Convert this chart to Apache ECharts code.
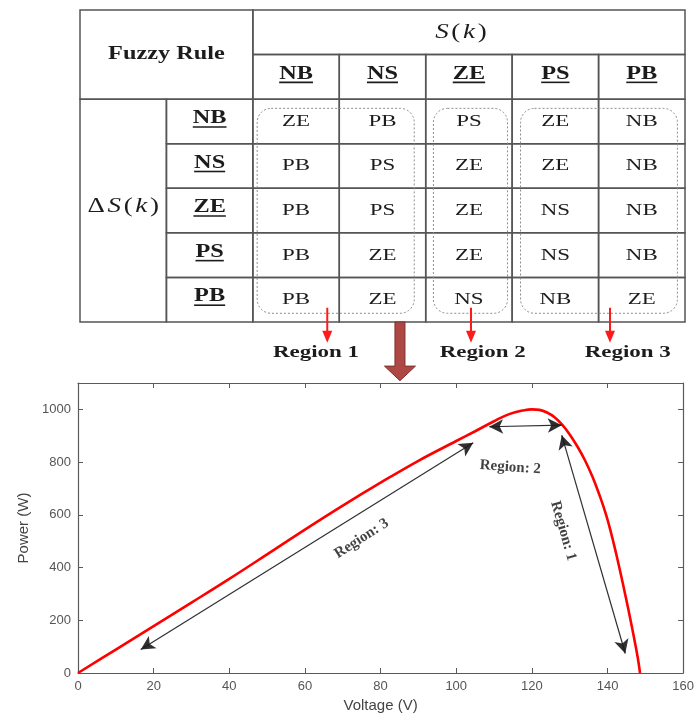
<!DOCTYPE html>
<html>
<head>
<meta charset="utf-8">
<style>
html,body{margin:0;padding:0;background:#ffffff;}
#main{width:697px;height:715px;}
</style>
<script src="https://cdn.jsdelivr.net/npm/echarts@6.0.0/dist/echarts.min.js"></script>
</head>
<body>
<div id="main"></div>
<script>
// ------------------------- DATA -------------------------
const tableTitle = 'Fuzzy Rule';
const colHeaders = ['NB', 'NS', 'ZE', 'PS', 'PB'];      // S(k)
const rowHeaders = ['NB', 'NS', 'ZE', 'PS', 'PB'];      // ΔS(k)
const ruleRows = [
  ['ZE', 'PB', 'PS', 'ZE', 'NB'],
  ['PB', 'PS', 'ZE', 'ZE', 'NB'],
  ['PB', 'PS', 'ZE', 'NS', 'NB'],
  ['PB', 'ZE', 'ZE', 'NS', 'NB'],
  ['PB', 'ZE', 'NS', 'NB', 'ZE']
];
const regionColumns = [[0, 1], [2, 2], [3, 4]];
const regionNames = ['Region 1', 'Region 2', 'Region 3'];

const voltage = [0, 10, 20, 30, 40, 50, 60, 70, 80, 90, 100, 105, 110, 114, 118, 120, 122, 124, 126, 128, 130, 132, 134, 136, 138, 139, 140, 141, 142, 143, 144, 145, 146, 147, 148, 148.6];
const power   = [0, 89, 178, 267, 357, 450, 544, 635, 722, 805, 880, 917, 955, 982, 997, 1000, 998, 988, 970, 942, 905, 860, 808, 745, 670, 628, 582, 528, 470, 408, 343, 276, 207, 135, 58, 0];

const xTickStep = 20;
const yTickStep = 200;

// annotation arrows on the curve (data units: [V, P])
const curveArrowStart = [[16.6, 89], [108.7, 934], [127.9, 902]];
const curveArrowEnd   = [[104.5, 873], [127.9, 940], [144.7, 74]];
const curveLabels = ['Region: 3', 'Region: 2', 'Region: 1'];
const curveLabelAnchor = [[75.0, 510], [114.3, 780], [128.3, 539]];

// ------------------------- LAYOUT / STYLE -------------------------
const SERIF = "'Liberation Serif','DejaVu Serif',serif";
const SANS = "'Liberation Sans',Arial,sans-serif";
const SX = 1.35;                  // horizontal stretch of the figure text
const TEXT = '#1c1c1c';
const BORDER = '#555555';
const ROW_UNITS = 8.5;
const ROW_H = 44.57;
const curveLabelRotate = [33, -4, -74];
const regionInsets = [[4.3, 11.5], [7.7, 4.6], [8.4, 7.6]];
const redArrowX = [2.861, 4.524, 6.132];
const regionLabelX = [2.731, 4.659, 6.337];

const measureCtx = document.createElement('canvas').getContext('2d');
function textWidth(t, font) { measureCtx.font = font; return measureCtx.measureText(t).width; }

// ------------------------- TABLE CELLS -------------------------
const cells = [];
cells.push({c: 0, r: 0, cs: 2, rs: 2, kind: 'title', text: tableTitle});
cells.push({c: 2, r: 0, cs: 5, rs: 1, kind: 'rich', text: '{i|S}{n|(}{i|k}{n|)}', dx: -8});
colHeaders.forEach((h, j) => cells.push({c: 2 + j, r: 1, cs: 1, rs: 1, kind: 'head', text: h}));
cells.push({c: 0, r: 2, cs: 1, rs: 5, kind: 'rich', text: '{n|Δ}{i|S}{n|(}{i|k}{n|)}', dy: -4});
rowHeaders.forEach((h, i) => cells.push({c: 1, r: 2 + i, cs: 1, rs: 1, kind: 'head', text: h}));
ruleRows.forEach((row, i) => row.forEach((v, j) => cells.push({c: 2 + j, r: 2 + i, cs: 1, rs: 1, kind: 'cell', text: v})));

function renderCell(params, api) {
  const info = cells[params.dataIndex];
  const p0 = api.coord([api.value(0), api.value(1)]);
  const p1 = api.coord([api.value(0) + api.value(2), api.value(1) + api.value(3)]);
  const cx = (p0[0] + p1[0]) / 2 + (info.dx || 0);
  let cy = (p0[1] + p1[1]) / 2 + (info.dy || 0);
  const children = [{
    type: 'rect',
    shape: {x: p0[0], y: p0[1], width: p1[0] - p0[0], height: p1[1] - p0[1]},
    style: {fill: 'none', stroke: BORDER, lineWidth: 1.5}
  }];
  if (info.kind === 'title') {
    children.push({type: 'text', x: cx, y: cy, scaleX: SX,
      style: {text: info.text, fill: TEXT, fontFamily: SERIF, fontWeight: 'bold', fontSize: 18, align: 'center', verticalAlign: 'middle'}});
  } else if (info.kind === 'rich') {
    children.push({type: 'text', x: cx, y: cy, scaleX: SX,
      style: {text: info.text, fill: TEXT, fontFamily: SERIF, fontSize: 20, align: 'center', verticalAlign: 'middle',
        rich: {
          i: {fontFamily: SERIF, fontStyle: 'italic', fontSize: 20, fill: TEXT, padding: [0, 1, 0, 1]},
          n: {fontFamily: SERIF, fontSize: 20, fill: TEXT, padding: [0, 1, 0, 1]}
        }}});
  } else if (info.kind === 'head') {
    cy -= 3;
    const w = textWidth(info.text, 'bold 18px ' + SERIF) * SX;
    children.push({type: 'text', x: cx, y: cy, scaleX: SX,
      style: {text: info.text, fill: TEXT, fontFamily: SERIF, fontWeight: 'bold', fontSize: 18, align: 'center', verticalAlign: 'middle'}});
    children.push({type: 'line', shape: {x1: cx - w / 2, y1: cy + 8.5, x2: cx + w / 2, y2: cy + 8.5},
      style: {stroke: TEXT, lineWidth: 1.6}});
  } else {
    children.push({type: 'text', x: cx, y: cy, scaleX: SX,
      style: {text: info.text, fill: TEXT, fontFamily: SERIF, fontSize: 17, align: 'center', verticalAlign: 'middle'}});
  }
  return {type: 'group', children: children};
}

function renderRegionBox(params, api) {
  const i = params.dataIndex;
  const p0 = api.coord([api.value(0), api.value(1)]);
  const p1 = api.coord([api.value(2), api.value(3)]);
  const ins = regionInsets[i];
  return {
    type: 'rect',
    shape: {x: p0[0] + ins[0], y: p0[1] + 9.2, width: (p1[0] - ins[1]) - (p0[0] + ins[0]), height: (p1[1] - 8.7) - (p0[1] + 9.2), r: 14},
    style: {fill: 'none', stroke: '#8c8c8c', lineWidth: 1, lineDash: [2, 2]}
  };
}

function renderRedArrow(params, api) {
  const i = params.dataIndex;
  const top = api.coord([api.value(0), 6.68]);
  const tip = api.coord([api.value(0), 7.465]);
  const lab = api.coord([regionLabelX[i], 7.69]);
  const x = top[0];
  return {type: 'group', children: [
    {type: 'line', shape: {x1: x, y1: top[1], x2: x, y2: tip[1] - 10}, style: {stroke: '#ff1a1a', lineWidth: 2}},
    {type: 'polygon', shape: {points: [[x - 5, tip[1] - 12], [x + 5, tip[1] - 12], [x, tip[1]]]}, style: {fill: '#ff1a1a'}},
    {type: 'text', x: lab[0], y: lab[1], scaleX: SX,
      style: {text: regionNames[i], fill: TEXT, fontFamily: SERIF, fontWeight: 'bold', fontSize: 17, align: 'center', verticalAlign: 'middle'}}
  ]};
}

function renderBigArrow(params, api) {
  const top = api.coord([api.value(0), 7.0]);
  const neck = api.coord([api.value(0), 7.99]);
  const tip = api.coord([api.value(0), 8.317]);
  const x = top[0];
  return {type: 'polygon', shape: {points: [
      [x - 5, top[1]], [x + 5, top[1]], [x + 5, neck[1]], [x + 15.5, neck[1]], [x, tip[1]], [x - 15.5, neck[1]], [x - 5, neck[1]]
    ]},
    style: {fill: '#ad4844', stroke: '#7e302d', lineWidth: 1}};
}

// ------------------------- CHART -------------------------
const chart = echarts.init(document.getElementById('main'), null, {renderer: 'canvas'});

function axisCommon() {
  return {
    axisLine: {show: true, onZero: false, lineStyle: {color: '#5a5a5a', width: 1.2}},
    axisTick: {show: true, inside: true, length: 5, lineStyle: {color: '#5a5a5a'}},
    splitLine: {show: false}
  };
}
const plainLabel = v => String(v);

const option = {
  animation: false,
  backgroundColor: '#ffffff',
  grid: [
    {left: 80, top: 10, width: 605, height: ROW_H * ROW_UNITS},
    {left: 78, right: 13, top: 383, bottom: 42}
  ],
  xAxis: [
    {gridIndex: 0, type: 'value', min: 0, max: 7, show: false},
    Object.assign({gridIndex: 1, type: 'value', min: 0, max: 160, interval: xTickStep, position: 'bottom',
      axisLabel: {color: '#555', fontSize: 13, fontFamily: SANS, margin: 7, formatter: plainLabel},
      name: 'Voltage (V)', nameLocation: 'middle', nameGap: 25,
      nameTextStyle: {color: '#444', fontSize: 15, fontFamily: SANS}}, axisCommon()),
    Object.assign({gridIndex: 1, type: 'value', min: 0, max: 160, interval: xTickStep, position: 'top',
      axisLabel: {show: false}}, axisCommon())
  ],
  yAxis: [
    {gridIndex: 0, type: 'value', min: 0, max: ROW_UNITS, inverse: true, show: false},
    Object.assign({gridIndex: 1, type: 'value', min: 0, max: 1100, interval: yTickStep, position: 'left',
      axisLabel: {color: '#555', fontSize: 13, fontFamily: SANS, margin: 7, showMaxLabel: false, formatter: plainLabel},
      name: 'Power (W)', nameLocation: 'middle', nameGap: 44, nameRotate: 90,
      nameTextStyle: {color: '#444', fontSize: 15, fontFamily: SANS}}, axisCommon()),
    Object.assign({gridIndex: 1, type: 'value', min: 0, max: 1100, interval: yTickStep, position: 'right',
      axisLabel: {show: false}}, axisCommon())
  ],
  series: [
    {
      type: 'custom', xAxisIndex: 0, yAxisIndex: 0, silent: true, z: 2,
      renderItem: renderCell,
      data: cells.map(c => [c.c, c.r, c.cs, c.rs])
    },
    {
      type: 'custom', xAxisIndex: 0, yAxisIndex: 0, silent: true, z: 3,
      renderItem: renderRegionBox,
      data: regionColumns.map(rc => [2 + rc[0], 2, 3 + rc[1], 7])
    },
    {
      type: 'custom', xAxisIndex: 0, yAxisIndex: 0, silent: true, z: 4,
      renderItem: renderRedArrow,
      data: redArrowX.map(x => [x, 6.68])
    },
    {
      type: 'custom', xAxisIndex: 0, yAxisIndex: 0, silent: true, z: 4,
      renderItem: renderBigArrow,
      data: [[3.702, 7.0]]
    },
    {
      type: 'line', xAxisIndex: 1, yAxisIndex: 1, silent: true, z: 3,
      data: voltage.map((v, i) => [v, power[i]]),
      smooth: 0.4, showSymbol: false,
      lineStyle: {color: '#ff0000', width: 2.6},
      markLine: {
        silent: true, animation: false,
        symbol: ['arrow', 'arrow'], symbolSize: [11, 14],
        label: {show: false},
        lineStyle: {color: '#1a1a1a', width: 1.2, type: 'solid', opacity: 0.9},
        emphasis: {disabled: true},
        data: curveArrowStart.map((s, i) => [{coord: s}, {coord: curveArrowEnd[i]}])
      }
    },
    {
      type: 'scatter', xAxisIndex: 1, yAxisIndex: 1, silent: true, z: 5,
      symbolSize: 0,
      label: {show: true, position: 'inside', formatter: '{b}', fontFamily: SERIF, fontWeight: 'bold', fontSize: 15, color: '#111'},
      data: curveLabels.map((t, i) => ({name: t, value: curveLabelAnchor[i], label: {rotate: curveLabelRotate[i]}}))
    }
  ]
};
chart.setOption(option);
</script>
</body>
</html>
